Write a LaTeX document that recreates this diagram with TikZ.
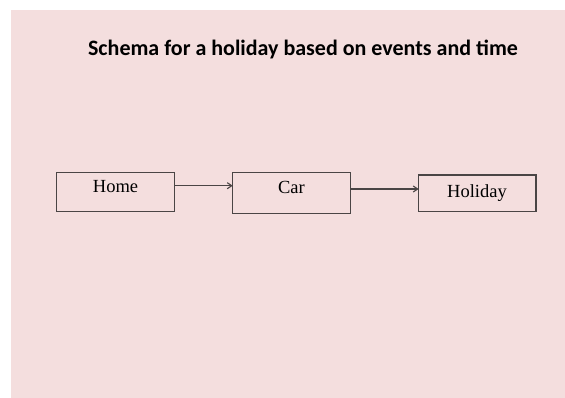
\documentclass[tikz,border=0pt]{standalone}
\usepackage{fontspec}
\setmainfont{Liberation Serif}
\newfontfamily\titlefont{Carlito}
\usetikzlibrary{arrows.meta}
\definecolor{panelpink}{HTML}{F4DEDE}
\definecolor{boxline}{HTML}{4A4545}
\begin{document}
\begin{tikzpicture}[x=1pt,y=-1pt,
  stepbox/.style={draw=boxline,line width=1.2pt,fill=panelpink,inner sep=0pt},
  flow/.style={draw=boxline,line width=1.1pt,-{Straight Barb[length=4.5pt,width=6pt]}},
  label/.style={font=\fontsize{18.5}{22}\selectfont,anchor=base}]
  \useasboundingbox (0,0) rectangle (565,398);
  \fill[white] (0,0) rectangle (565,398);
  \fill[panelpink] (11,10) rectangle (565,398);
  % title
  \node[font=\titlefont\bfseries\fontsize{22}{26}\selectfont,anchor=base] (title) at (303,56)
    {Schema for a holiday based on events and time};
  % event boxes
  \draw[stepbox] (56.7,172.3) rectangle (174.3,211.7);
  \draw[stepbox] (232.7,172.3) rectangle (350.3,213.3);
  \draw[stepbox] (418.7,175) rectangle (536,211.7);
  \coordinate (homeE) at (174.3,185.7);
  \coordinate (carW) at (232.7,185.7);
  \coordinate (carE) at (350.3,189);
  \coordinate (holW) at (418.7,189);
  \node[label] (home) at (115.5,193) {Home};
  \node[label] (car) at (291.5,194) {Car};
  \node[label] (holiday) at (477,197.5) {Holiday};
  \draw[flow] (homeE) -- (carW);
  \draw[flow] (carE) -- (holW);
\end{tikzpicture}
\end{document}
